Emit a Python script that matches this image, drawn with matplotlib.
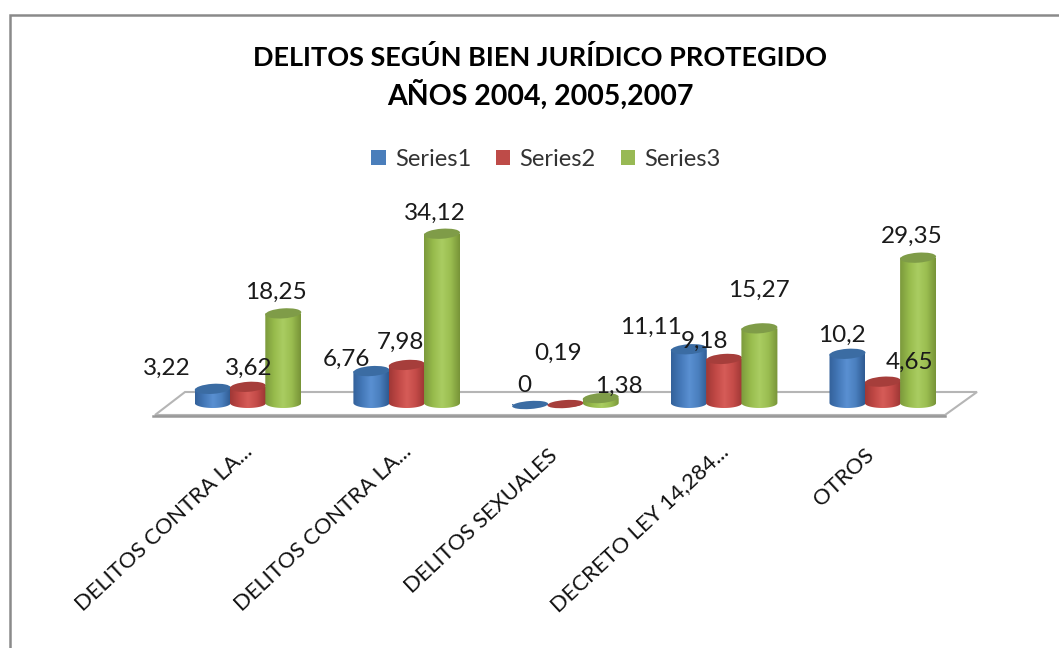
import numpy as np
import matplotlib
matplotlib.use("Agg")
import matplotlib.pyplot as plt
from matplotlib.colors import LinearSegmentedColormap
from matplotlib.patches import Ellipse, Polygon, Rectangle, Patch
from matplotlib.path import Path
from matplotlib.transforms import Affine2D, IdentityTransform

categories = ["DELITOS CONTRA LA...", "DELITOS CONTRA LA...", "DELITOS SEXUALES",
              "DECRETO LEY 14,284...", "OTROS"]
series1 = [3.22, 6.76, 0, 11.11, 10.2]
series2 = [3.62, 7.98, 0.19, 9.18, 4.65]
series3 = [18.25, 34.12, 1.38, 15.27, 29.35]
series_names = ["Series1", "Series2", "Series3"]
labels1 = ["3,22", "6,76", "0", "11,11", "10,2"]
labels2 = ["3,62", "7,98", "0,19", "9,18", "4,65"]
labels3 = ["18,25", "34,12", "1,38", "15,27", "29,35"]

# label offsets from the top of each bar, in pixels
off1 = [(-46, 20), (-25, 12), (-6, 20), (-38, 22), (-6, 18)]
off2 = [(1, 18), (-6, 23), (-7, 51), (-20, 18), (27, 19)]
off3 = [(-7, 21), (-7, 20), (18, 12), (0, 38), (-6, 21)]
# tick label shifts, in pixels
tick_shift = [(-5, 0), (-5, 0), (-18, -4), (-5, 0), (-19, -4)]

plt.rcParams["font.family"] = ["Lato", "DejaVu Sans"]
W, H = 1059, 648
fig = plt.figure(figsize=(W / 100, H / 100), dpi=100, facecolor="white")

BASE_PX, PX_PER_UNIT = 405, 5.02
X0_PX, STEP_PX = 248, 158.7
ax = fig.add_axes([0, (H - BASE_PX) / H, 1, BASE_PX / H])
ax.set_xlim(-X0_PX / STEP_PX, (W - X0_PX) / STEP_PX)
ax.set_ylim(0, BASE_PX / PX_PER_UNIT)
ax.patch.set_alpha(0)
for s in ax.spines.values():
    s.set_visible(False)
ax.set_yticks([])
ax.set_xticks(range(len(categories)))
ax.set_xticklabels(categories, rotation=43, ha="right", va="top",
                   rotation_mode="anchor", fontsize=15.8, color="#111111")
ax.tick_params(axis="x", length=0, pad=26)
for t, (sx, sy) in zip(ax.get_xticklabels(), tick_shift):
    t.set_transform(t.get_transform() + Affine2D().translate(sx, sy))

# chart frame and floor, in figure pixels
def px(x, y):
    return x, H - y
pix = IdentityTransform()
fig.add_artist(Rectangle(px(10, 648 + 20), W + 20, 648 + 20 - 15, transform=pix, fill=False,
                         edgecolor="#8a8a8a", linewidth=1.8))
ax.add_patch(Polygon([px(155, 415), px(945, 415), px(977, 392), px(185, 392)], closed=True,
                     transform=pix, facecolor="white", edgecolor="#b5b5b5", linewidth=1.5,
                     clip_on=False, zorder=1))
ax.plot([153, 945], [H - 415.5, H - 415.5], transform=pix, color="#999999", lw=1.8,
        clip_on=False, zorder=1)

ramps = [["#33619a", "#4478b8", "#5a90d2", "#4a7fbe", "#2f5b92"],
         ["#a03836", "#c04845", "#d65c58", "#c44b48", "#9c3634"],
         ["#7c9a3c", "#97bb4c", "#aacd62", "#9abd50", "#789438"]]
tops = ["#3b6ca3", "#a63e3b", "#7f9c48"]
legend_colors = ["#4a7ebb", "#be4b48", "#98b954"]

all_series = [series1, series2, series3]
all_labels = [labels1, labels2, labels3]
all_off = [off1, off2, off3]
BAR_W = 36 / STEP_PX
SHIFT = 35.3 / STEP_PX
ELL_H = 10

for s, (vals, labs, offs) in enumerate(zip(all_series, all_labels, all_off)):
    xs = np.arange(len(vals)) + (s - 1) * SHIFT
    bars = ax.bar(xs, vals, width=BAR_W, color=ramps[s][2], zorder=3 + s, alpha=0)
    cmap = LinearSegmentedColormap.from_list(f"c{s}", ramps[s])
    for rect, v, lab, (dx, dy) in zip(bars, vals, labs, offs):
        cx = rect.get_x() + rect.get_width() / 2
        xd, yd = ax.transData.transform((cx, v))
        _, y0 = ax.transData.transform((cx, 0))
        hw = 18
        eh = ELL_H if v > 1 else 8
        t = np.linspace(0, np.pi, 40)
        arc = np.column_stack([xd - hw * np.cos(t), y0 - eh / 2 * np.sin(t) + 2])
        verts = np.vstack([[xd - hw, yd], arc, [xd + hw, yd], [xd - hw, yd]])
        clip = Path(verts)
        im = ax.imshow(np.linspace(0, 1, 64)[None, :], cmap=cmap, aspect="auto",
                       extent=(cx - BAR_W / 2, cx + BAR_W / 2, -2.0, max(v, 0.01)),
                       zorder=3 + s)
        im.set_clip_path(clip, pix)
        im.set_clip_box(fig.bbox)
        ax.add_patch(Ellipse((0, 0), 36, eh, angle=4, facecolor=tops[s], edgecolor="none",
                             transform=Affine2D().translate(xd, yd), zorder=3 + s,
                             clip_on=False))
        ax.annotate(lab, (cx, v), xytext=(dx, dy), textcoords="offset pixels",
                    ha="center", va="center", fontsize=17.5, color="#1a1a1a", zorder=10)

ax.set_xlim(-X0_PX / STEP_PX, (W - X0_PX) / STEP_PX)
ax.set_ylim(0, BASE_PX / PX_PER_UNIT)

fig.text(540 / W, 1 - 57 / H, "DELITOS SEGÚN BIEN JURÍDICO PROTEGIDO", ha="center", va="center",
         fontsize=19.5, fontweight="bold", color="black")
fig.text(540 / W, 1 - 95 / H, "AÑOS 2004, 2005,2007", ha="center", va="center",
         fontsize=20.5, fontweight="bold", color="black")

handles = [Patch(facecolor=legend_colors[i], label=series_names[i]) for i in range(3)]
fig.legend(handles=handles, loc="center", bbox_to_anchor=(546 / W, 1 - 159 / H), ncol=3,
           frameon=False, fontsize=17, handlelength=0.6, handleheight=0.6,
           handletextpad=0.4, columnspacing=1.05, labelcolor="#333333")

fig.savefig("out.png", dpi=100)
